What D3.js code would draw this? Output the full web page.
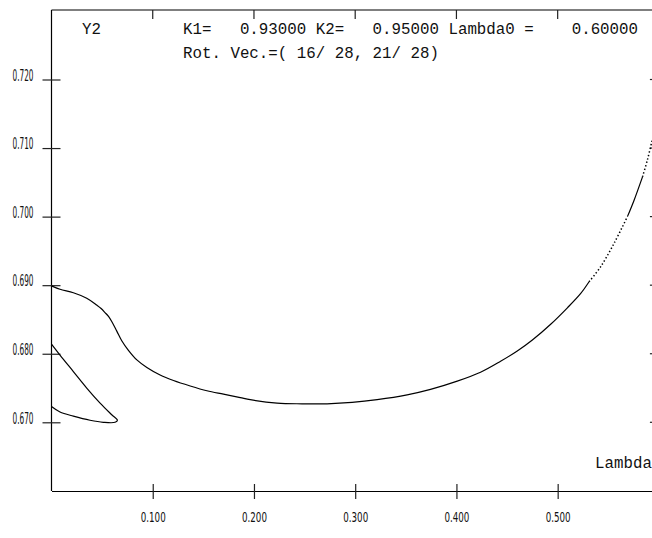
<!DOCTYPE html>
<html>
<head>
<meta charset="utf-8">
<script src="https://cdn.jsdelivr.net/npm/d3@7"></script>
<style>
  html, body { margin: 0; padding: 0; background: #fff; }
  svg { display: block; }
  .mono { font-family: "Liberation Mono", "DejaVu Sans Mono", monospace; white-space: pre; fill: #111; }
</style>
</head>
<body>
<svg id="chart" width="652" height="538"></svg>
<script>
// ---- data ----
const xTicks = [0.1, 0.2, 0.3, 0.4, 0.5];
const yTicks = [0.670, 0.680, 0.690, 0.700, 0.710, 0.720];

const lambdaMain = [0.0000,0.0084,0.0216,0.0348,0.0447,0.0490,0.0529,0.0565,0.0595,0.0645,0.0694,0.0760,0.0843,0.0942,0.1073,0.1205,0.1370,0.1535,0.1699,0.1865,0.1963,0.2228,0.2475,0.2722,0.2969,0.3217,0.3513,0.3744,0.4008,0.4238,0.4436,0.4601,0.4750,0.4931,0.5096,0.5228,0.5310,0.5425,0.5557,0.5689,0.5755,0.5838,0.5887,0.5937];
const y2Main = [0.6899,0.6894,0.6889,0.6881,0.6871,0.6866,0.6860,0.6854,0.6847,0.6833,0.6819,0.6805,0.6791,0.6780,0.6769,0.6761,0.6753,0.6746,0.6741,0.6736,0.6733,0.6728,0.6727,0.6727,0.6729,0.6733,0.6740,0.6748,0.6760,0.6773,0.6789,0.6804,0.6820,0.6843,0.6867,0.6888,0.6905,0.6927,0.6961,0.7000,0.7024,0.7058,0.7083,0.7114];

const lambdaLoop = [0.0000,0.0084,0.0216,0.0348,0.0480,0.0595,0.0651,0.0628,0.0512,0.0381,0.0216,0.0084,0.0000];
const y2Loop = [0.6814,0.6798,0.6774,0.6750,0.6728,0.6711,0.6703,0.6700,0.6700,0.6703,0.6709,0.6715,0.6723];

// lambda ranges where the computed branch is drawn sparsely (dotted)
const dottedRanges = [[0.531, 0.569], [0.584, 0.600]];

const headerLine1 = "K1=   0.93000 K2=   0.95000 Lambda0 =    0.60000";
const headerLine2 = "Rot. Vec.=( 16/ 28, 21/ 28)";
const yName = "Y2";
const xName = "Lambda";

// ---- layout ----
const svg = d3.select("#chart");
const x = d3.scaleLinear().domain([0, 0.6]).range([51.5, 658.9]);
const y = d3.scaleLinear().domain([0.670, 0.720]).range([422.3, 79.5]);
const topY = 10, bottomY = 491;

const fmt = d3.format(".3f");

// frame lines
svg.append("line").attr("x1", x(0)).attr("x2", x(0)).attr("y1", topY).attr("y2", bottomY)
  .attr("stroke", "#000").attr("stroke-width", 1.2);
svg.append("line").attr("x1", x(0)).attr("x2", x(0.6)).attr("y1", topY).attr("y2", topY)
  .attr("stroke", "#000").attr("stroke-width", 1.2);

// left axis
const yAxis = d3.axisLeft(y).tickValues(yTicks).tickSizeInner(9).tickSizeOuter(0).tickFormat(fmt);
const gy = svg.append("g").attr("transform", `translate(${x(0)},0)`).call(yAxis);
gy.select(".domain").remove();
gy.selectAll(".tick line").attr("x1", -9).attr("x2", 9).attr("stroke", "#222").attr("stroke-width", 1.2);
gy.selectAll(".tick text")
  .attr("x", -18).attr("dy", "0.05em")
  .attr("font-family", "DejaVu Sans, Liberation Sans, sans-serif")
  .attr("font-size", 16).attr("fill", "#111")
  .attr("textLength", 21).attr("lengthAdjust", "spacingAndGlyphs");

// right ticks
svg.append("g").selectAll("line").data(yTicks).join("line")
  .attr("x1", x(0.6) - 9).attr("x2", x(0.6) + 9)
  .attr("y1", d => y(d)).attr("y2", d => y(d))
  .attr("stroke", "#222").attr("stroke-width", 1.2);

// bottom axis
const xAxis = d3.axisBottom(x).tickValues(xTicks).tickSizeInner(8).tickSizeOuter(0).tickFormat(fmt);
const gx = svg.append("g").attr("transform", `translate(0,${bottomY})`).call(xAxis);
gx.select(".domain").attr("stroke", "#000").attr("stroke-width", 1.2);
gx.selectAll(".tick line").attr("y1", -7).attr("y2", 8).attr("stroke", "#222").attr("stroke-width", 1.2);
gx.selectAll(".tick text")
  .attr("y", 31).attr("dy", 0)
  .attr("font-family", "DejaVu Sans, Liberation Sans, sans-serif")
  .attr("font-size", 13.5).attr("fill", "#111")
  .attr("textLength", 25).attr("lengthAdjust", "spacingAndGlyphs");

// top ticks
svg.append("g").selectAll("line").data(xTicks).join("line")
  .attr("x1", d => x(d)).attr("x2", d => x(d))
  .attr("y1", topY).attr("y2", topY + 9)
  .attr("stroke", "#222").attr("stroke-width", 1.2);

// header text
const fs = 15.8;
svg.append("text").attr("class", "mono").attr("x", 82).attr("y", 34).attr("font-size", fs).text(yName);
svg.append("text").attr("class", "mono").attr("x", 183).attr("y", 34).attr("font-size", fs).text(headerLine1);
svg.append("text").attr("class", "mono").attr("x", 183).attr("y", 58).attr("font-size", fs).text(headerLine2);
svg.append("text").attr("class", "mono").attr("x", 595).attr("y", 468).attr("font-size", fs).text(xName);

// curves
const line = d3.line().x(d => x(d[0])).y(d => y(d[1])).curve(d3.curveCatmullRom.alpha(0.5));
const isDotted = l => dottedRanges.some(r => l >= r[0] && l <= r[1]);

function drawBranch(ls, vs) {
  const pts = ls.map((l, i) => [l, vs[i]]);
  let groups = [];
  for (let i = 0; i < pts.length - 1; i++) {
    const mid = (pts[i][0] + pts[i + 1][0]) / 2;
    const dotted = isDotted(mid);
    const last = groups[groups.length - 1];
    if (last && last.dotted === dotted) last.pts.push(pts[i + 1]);
    else groups.push({ dotted, pts: [pts[i], pts[i + 1]] });
  }
  svg.append("g").selectAll("path").data(groups).join("path")
    .attr("d", g => line(g.pts))
    .attr("fill", "none")
    .attr("stroke", "#000")
    .attr("stroke-width", g => g.dotted ? 1.5 : 1.2)
    .attr("stroke-dasharray", g => g.dotted ? "1.4,2.2" : null);
}
drawBranch(lambdaMain, y2Main);
drawBranch(lambdaLoop, y2Loop);
</script>
</body>
</html>
